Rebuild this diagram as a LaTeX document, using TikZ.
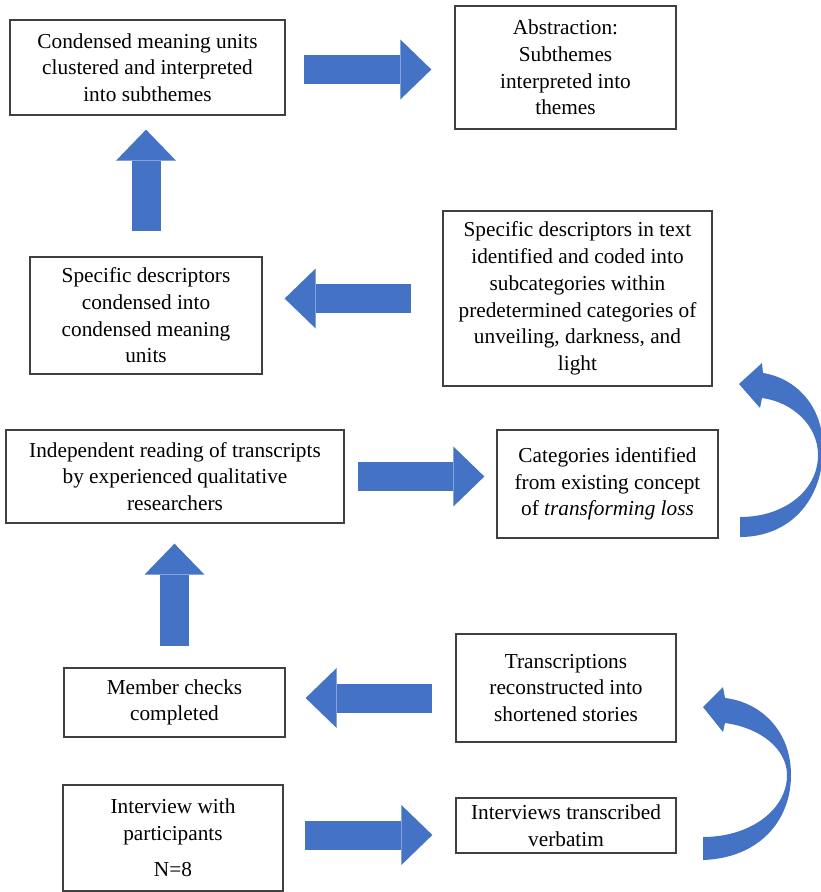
\documentclass[tikz,border=0pt]{standalone}
\usepackage{fontspec}
\setmainfont{Liberation Serif}
\usetikzlibrary{arrows.meta}

\definecolor{arrowblue}{RGB}{68,114,196}
\definecolor{boxline}{RGB}{64,64,64}

\begin{document}
\begin{tikzpicture}[x=1pt, y=-1pt,
    box/.style={draw=boxline, line width=1.3pt, align=center, inner sep=0pt,
      font=\fontsize{21.3}{26.7}\selectfont},
    barrow/.style={draw=arrowblue, line width=29pt,
      -{Triangle[width=60pt, length=31pt, line width=0pt]},
      shorten <=20pt, shorten >=20pt},
    carrow/.style={fill=arrowblue}]

    \useasboundingbox (0,0) rectangle (821,892);

    % etapes
    \node[box, minimum width=275pt, minimum height=95pt] (cond) at (147.5,67.5)
      {Condensed meaning units\\clustered and interpreted\\into subthemes};
    \node[box, minimum width=221pt, minimum height=123pt] (abstr) at (565.5,67.5)
      {Abstraction:\\Subthemes\\interpreted into\\themes};
    \node[box, minimum width=232pt, minimum height=117pt] (spec) at (146,315.5)
      {Specific descriptors\\condensed into\\condensed meaning\\units};
    \node[box, minimum width=269pt, minimum height=175pt] (ident) at (577.5,298.5)
      {Specific descriptors in text\\identified and coded into\\subcategories within\\predetermined categories of\\unveiling, darkness, and\\light};
    \node[box, minimum width=338pt, minimum height=93pt] (indep) at (175,476.5)
      {Independent reading of transcripts\\by experienced qualitative\\researchers};
    \node[box, minimum width=221pt, minimum height=108pt] (categ) at (607.5,484)
      {Categories identified\\from existing concept\\of \textit{transforming loss}};
    \node[box, minimum width=221pt, minimum height=69pt] (member) at (174.5,702.5)
      {Member checks\\completed};
    \node[box, minimum width=220pt, minimum height=108pt] (transcr) at (566,688)
      {Transcriptions\\reconstructed into\\shortened stories};
    \node[box, minimum width=220pt, minimum height=106pt] (interview) at (173,838)
      {Interview with\\participants\\[10pt]N=8};
    \node[box, minimum width=220pt, minimum height=55pt] (verbatim) at (566,825.5)
      {Interviews transcribed\\verbatim};

    % fleches droites
    \coordinate (mc) at ([yshift=4.5pt]member.east);
    \coordinate (ic) at ([yshift=3pt]interview.east);
    \draw[barrow, shorten <=18pt, shorten >=23pt] ([yshift=-2pt]cond.east) -- ([yshift=-2pt]abstr.west);
    \draw[barrow, shorten <=25pt, shorten >=14pt] (spec.north) -- (spec.north |- cond.south);
    \draw[barrow, shorten <=31pt, shorten >=22pt] (ident.west) -- (ident.west -| spec.east);
    \draw[barrow, shorten <=13pt, shorten >=12pt] (indep.east) -- (indep.east -| categ.west);
    \draw[barrow, shorten <=21pt, shorten >=20pt] (member.north) -- (member.north |- indep.south);
    \draw[barrow, shorten <=23pt, shorten >=20pt] (mc -| transcr.west) -- (mc);
    \draw[barrow, shorten <=21pt, shorten >=23pt] (ic) -- (ic -| verbatim.west);

    % fleches courbes
    \fill[carrow] (740,537) .. controls (790,537) and (823,500) .. (823,448)
      .. controls (823,405) and (795,378) .. (763,373) -- (762,363) -- (739,384)
      -- (760,408) -- (762,398) .. controls (792,402) and (818,425) .. (818,455)
      .. controls (818,490) and (785,517) .. (740,517) -- cycle;
    \fill[carrow] (703,860) .. controls (760,858) and (791,820) .. (791,775)
      .. controls (791,730) and (760,702) .. (725,698) -- (723,687) -- (703,707)
      -- (723,732) -- (725,723) .. controls (762,728) and (787,750) .. (787,775)
      .. controls (787,810) and (750,837) .. (703,837) -- cycle;

\end{tikzpicture}
\end{document}
